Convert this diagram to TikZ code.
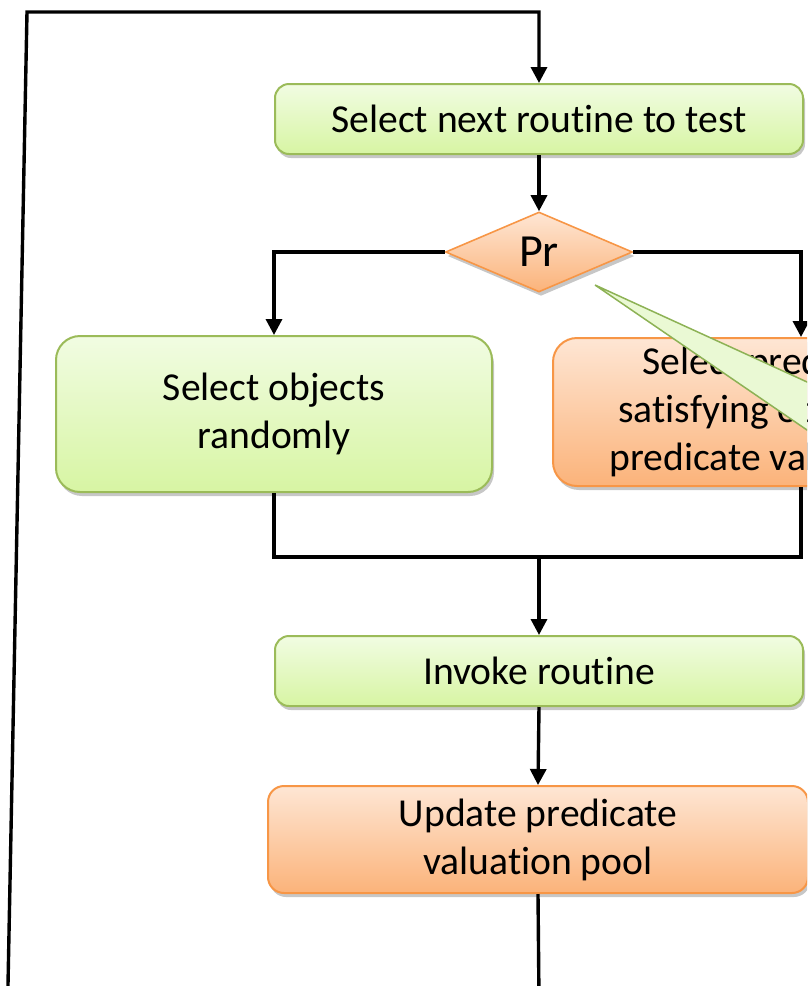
\documentclass[tikz,border=0pt]{standalone}
\usepackage{fontspec}
\setmainfont{Carlito}[Ligatures={NoCommon}]
\usetikzlibrary{shapes.geometric,arrows.meta,shadows,calc}
\definecolor{gtop}{HTML}{F1FCE2}
\definecolor{gbot}{HTML}{D7F5A3}
\definecolor{gline}{HTML}{9BBB59}
\definecolor{otop}{HTML}{FEE6D4}
\definecolor{obot}{HTML}{FBB37A}
\definecolor{oline}{HTML}{F79646}
\definecolor{cfill}{HTML}{EAF9D4}
\definecolor{cline}{HTML}{8DB255}
\begin{document}
\begin{tikzpicture}[x=1pt,y=-1pt,
  every node/.style={font=\fontsize{39.6}{48}\selectfont, text=black},
  shad/.style={drop shadow={shadow xshift=2pt,shadow yshift=-4pt,opacity=0.22,fill=black}},
  gbox/.style={rectangle, rounded corners=14pt, draw=gline, line width=2pt,
    top color=gtop, bottom color=gbot, inner sep=0pt, align=center, shad},
  obox/.style={rectangle, rounded corners=14pt, draw=oline, line width=2pt,
    top color=otop, bottom color=obot, inner sep=0pt, align=center, shad},
  conn/.style={line width=3.4pt, draw=black},
  arr/.style={conn, -{Triangle[length=16pt,width=16pt]}},
]
\useasboundingbox (0,0) rectangle (807,986);
\clip (0,0) rectangle (807,986);

% nodes
\node[gbox, minimum width=528pt, minimum height=70pt] (b1) at (539,119) {Select next routine to test};
\node[diamond, aspect=2.34, minimum width=187pt, minimum height=80pt, inner sep=0pt,
  draw=oline, line width=1.6pt, top color=otop, bottom color=obot, shad,
  font=\fontsize{46}{52}\selectfont] (d) at (539,252) {Pr};
\node[gbox, rounded corners=24pt, minimum width=436pt, minimum height=156pt] (b2) at (274,414) {Select objects\\randomly};
\node[obox, rounded corners=24pt, minimum width=422pt, minimum height=148pt,
  align=left] (b3) at (764,412)
  {\hspace*{33pt}Select predicates\\\hspace*{9pt}satisfying objects\\predicate valuation};
\node[gbox, minimum width=528pt, minimum height=70pt] (b4) at (539,671) {Invoke routine};
\node[obox, rounded corners=16pt, minimum width=540pt, minimum height=107pt] (b5) at (538,839.5) {Update predicate\\valuation pool};

% callout pointer (body lies outside the picture)
\coordinate (ctip) at (595,285);
\coordinate (cu) at (900,424.5);
\coordinate (cd) at (900,493.6);
\draw[fill=cfill, draw=cline, line width=1.5pt, line join=miter] (ctip) -- (cu) -- (cd) -- cycle;

% helper coordinates
\coordinate (rj) at (801,0);
\coordinate (mrg) at (539,557);
\coordinate (tl) at (27,12);
\coordinate (bl) at (7.7,1000);
\coordinate (bm) at (539,1000);

% connectors
\draw[arr] (bl) -- (tl) -| (b1.north);
\draw[arr] (b1.south) -- (d.north);
\draw[arr] (d.west) -| (b2.north);
\draw[arr] (d.east) -| (rj |- b3.north);
\draw[conn] (b2.south) |- (rj |- mrg) -- (rj |- b3.south);
\draw[arr] (mrg) -- (b4.north);
\draw[arr] (b4.south) -- (b5.north);
\draw[conn] (b5.south) -- (bm);
\end{tikzpicture}
\end{document}
